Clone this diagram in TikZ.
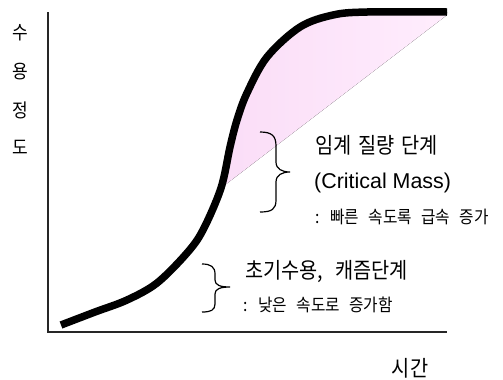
\documentclass[tikz,border=0pt]{standalone}
\usepackage{fontspec}
\setmainfont{Noto Sans CJK KR}
\newfontfamily\hangul[FakeStretch=0.9]{Noto Sans CJK KR}
\newfontfamily\latinsans{Liberation Sans}
\definecolor{pinkL}{RGB}{250,221,247}
\definecolor{pinkR}{RGB}{255,237,253}
\newcommand{\wsp}{\hspace{2.6bp}}
\newcommand{\csp}{\hspace{7.5bp}}
\newcommand{\ssp}{\hspace{6bp}}
\begin{document}
\begin{tikzpicture}[x=1bp,y=-1bp,
  lbl/.style={anchor=west,inner sep=0pt,font=\hangul\fontsize{22}{24}\selectfont},
  sublbl/.style={anchor=west,inner sep=0pt,font=\hangul\fontsize{17.5}{19}\selectfont},
  axlbl/.style={inner sep=0pt,font=\hangul\fontsize{19}{21}\selectfont},
  axisline/.style={line width=1.5bp,black!85},
  brace/.style={line width=1.2bp,black},
  scurve/.style={line width=7.5bp,black,line join=round}]
\useasboundingbox (0,0) rectangle (503,379);
% pink region
\fill[left color=pinkL,right color=pinkR]
  plot[smooth,tension=0.55] coordinates {(221,188) (230,147) (237,120) (247,93) (267,57) (300,27) (333,15) (367,12) (447,12)}
  -- (447,15) -- cycle;
% axes
\coordinate (origin) at (48,332);
\coordinate (ytop) at (48,12);
\coordinate (xend) at (447,332);
\draw[axisline] (ytop) -- (origin) -- (xend);
% S curve
\draw[scurve] plot[smooth,tension=0.55] coordinates {(61,325) (95,312) (127,300) (157,283) (187,253) (203,230) (221,188) (230,147) (237,120) (247,93) (267,57) (300,27) (333,15) (367,12) (447,12)};
% braces
\draw[brace] (260,132) .. controls (272,132) and (276,136) .. (276,146)
  -- (276,162) .. controls (276,169) and (282,172) .. (290,172)
  .. controls (282,172) and (276,175) .. (276,182)
  -- (276,200) .. controls (276,209) and (272,212) .. (260,212);
\draw[brace] (202,264) .. controls (211,264) and (215,267) .. (215,274)
  -- (215,280) .. controls (215,285) and (220,287) .. (230,287)
  .. controls (220,287) and (215,289) .. (215,294)
  -- (215,304) .. controls (215,310) and (211,312) .. (202,312);
% labels
\node[lbl] (cm1) at (315,145) {임계 \wsp{}질량 \wsp{}단계};
\node[lbl,font=\latinsans\fontsize{21.5}{23}\selectfont] (cm2) at (314,183) {(Critical Mass)};
\node[sublbl] (cm3) at (315,217) {: \ssp{}빠른 \ssp{}속도록 \ssp{}급속 \ssp{}증가};
\node[lbl] (ea1) at (245,272) {초기수용, \csp{}캐즘단계};
\node[sublbl] (ea2) at (243,305) {: \ssp{}낮은 \ssp{}속도로 \ssp{}증가함};
\node[axlbl] (y1) at (20,33) {수};
\node[axlbl] (y2) at (20,72) {용};
\node[axlbl] (y3) at (20,110) {정};
\node[axlbl] (y4) at (20,147) {도};
\node[axlbl,font=\hangul\fontsize{22}{24}\selectfont] (xl) at (410,368) {시간};
\end{tikzpicture}
\end{document}
